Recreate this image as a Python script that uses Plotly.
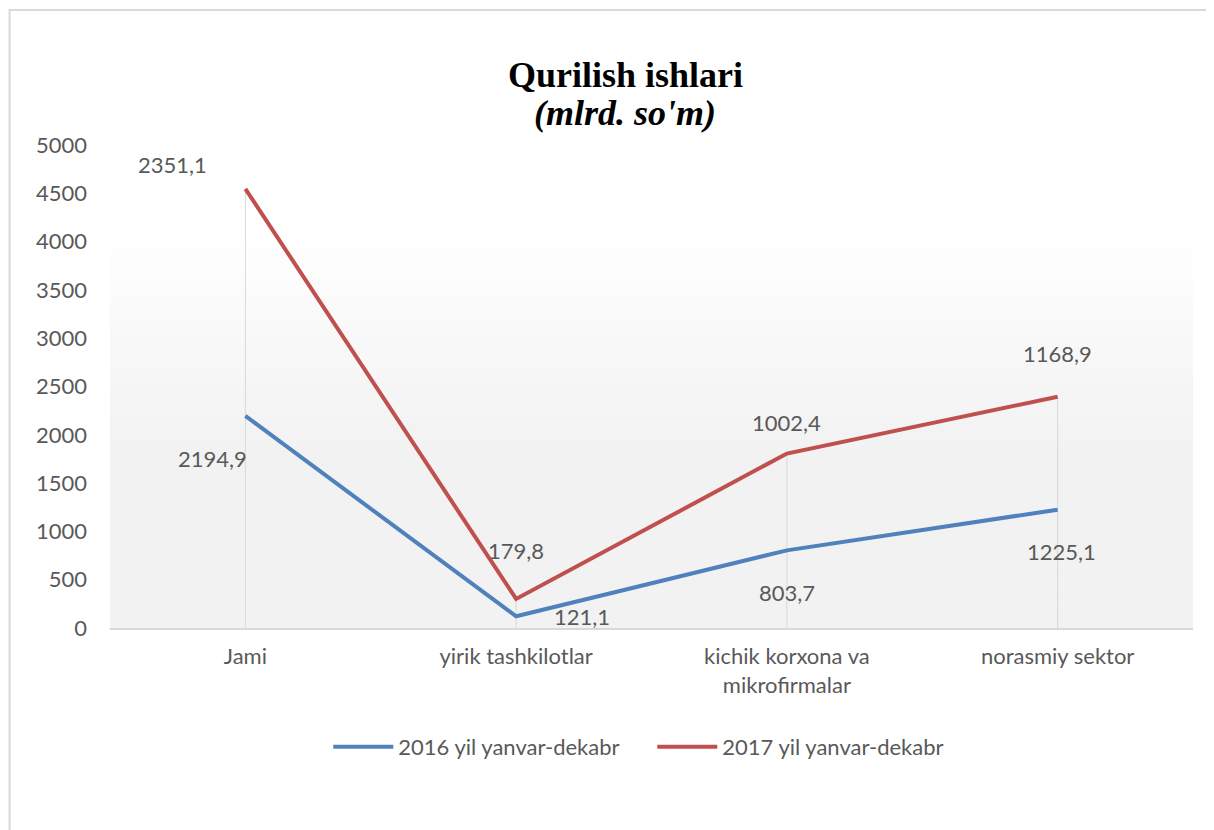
import plotly.graph_objects as go

categories = ["Jami", "yirik tashkilotlar", "kichik korxona va<br>mikrofirmalar", "norasmiy sektor"]
values_2016 = [2194.9, 121.1, 803.7, 1225.1]
values_2017 = [2351.1, 179.8, 1002.4, 1168.9]
labels_2016 = ["2194,9", "121,1", "803,7", "1225,1"]
labels_2017 = ["2351,1", "179,8", "1002,4", "1168,9"]
series_names = ["2016 yil yanvar-dekabr", "2017 yil yanvar-dekabr"]
y_ticks = [0, 500, 1000, 1500, 2000, 2500, 3000, 3500, 4000, 4500, 5000]

stack_2017 = [a + b for a, b in zip(values_2016, values_2017)]

OFF = 8  # page body margin
W, H = 1214 - OFF, 830 - OFF
ML = 109.5 - OFF
MT = 145 - OFF
MR = W - (1193.5 - OFF)
MB = H - (628 - OFF)
PW = W - ML - MR
PH = H - MT - MB


def px_x(x):  # reference pixel -> paper x
    return (x - OFF - ML) / PW


def px_y(y):  # reference pixel -> paper y
    return (H - MB - (y - OFF)) / PH


FONT = "Lato"
FS = 22
TXT = "#595959"
BLUE = "#4f81bd"
RED = "#c0504d"

fig = go.Figure()

# drop lines
dx, dy = [], []
for c, t in zip(categories, stack_2017):
    dx += [c, c, None]
    dy += [0, t, None]
fig.add_trace(go.Scatter(x=dx, y=dy, mode="lines", line=dict(color="#d9d9d9", width=1),
                         showlegend=False, hoverinfo="skip"))

fig.add_trace(go.Scatter(x=categories, y=values_2016, mode="lines", name=series_names[0],
                         line=dict(color=BLUE, width=4)))
fig.add_trace(go.Scatter(x=categories, y=stack_2017, mode="lines", name=series_names[1],
                         line=dict(color=RED, width=4)))

# data labels
shifts_2016 = [(-33, -43), (66, 0), (0, -42), (4, -42)]
shifts_2017 = [(-73, 24), (0, 48), (0, 31), (0, 43)]
for c, v, lab, (sx, sy) in zip(categories, values_2016, labels_2016, shifts_2016):
    fig.add_annotation(x=c, y=v, text=lab, showarrow=False, xshift=sx, yshift=sy,
                       font=dict(family=FONT, size=FS, color=TXT))
for c, v, lab, (sx, sy) in zip(categories, stack_2017, labels_2017, shifts_2017):
    fig.add_annotation(x=c, y=v, text=lab, showarrow=False, xshift=sx, yshift=sy,
                       font=dict(family=FONT, size=FS, color=TXT))

# title
fig.add_annotation(xref="paper", yref="paper", x=px_x(625), y=px_y(75),
                   text="<b>Qurilish ishlari</b>", showarrow=False, yanchor="middle",
                   font=dict(family="Liberation Serif", size=36, color="black"))
fig.add_annotation(xref="paper", yref="paper", x=px_x(625), y=px_y(113),
                   text="<b><i>(mlrd. so'm)</i></b>", showarrow=False, yanchor="middle",
                   font=dict(family="Liberation Serif", size=36, color="black"))

# background gradient (plot area)
shapes = []
n = 40
for i in range(n):
    f0 = i / n
    f1 = (i + 1) / n
    t = (f0 + f1) / 2
    if t <= 0.37:
        g = 242
    elif t >= 0.82:
        g = 255
    else:
        g = round(242 + (t - 0.37) / 0.45 * 13)
    shapes.append(dict(type="rect", xref="paper", yref="paper", x0=0, x1=1, y0=f0, y1=f1 + 0.001,
                       fillcolor=f"rgb({g},{g},{g})", line=dict(width=0), layer="below"))
# outer frame
shapes.append(dict(type="rect", xref="paper", yref="paper",
                   x0=px_x(9), x1=px_x(1240), y0=px_y(850), y1=px_y(10),
                   line=dict(color="#d9d9d9", width=2), fillcolor="rgba(0,0,0,0)", layer="below"))

fig.update_layout(
    width=W, height=H,
    margin=dict(l=ML, r=MR, t=MT, b=MB),
    paper_bgcolor="white", plot_bgcolor="rgba(0,0,0,0)",
    shapes=shapes,
    showlegend=True,
    legend=dict(orientation="h", x=px_x(328), xanchor="left", y=px_y(747), yanchor="middle",
                font=dict(family=FONT, size=FS, color=TXT), itemwidth=60,
                entrywidth=249, entrywidthmode="pixels",
                bgcolor="rgba(0,0,0,0)"),
    xaxis=dict(range=[-0.5, 3.5], showgrid=False, showline=True, linecolor="#d9d9d9", linewidth=1.5,
               ticks="", tickfont=dict(family=FONT, size=FS, color=TXT), fixedrange=True,
               ticklabelstandoff=8),
    yaxis=dict(range=[0, 5000], tickvals=y_ticks, showgrid=False, zeroline=False, showline=False,
               ticks="", tickfont=dict(family=FONT, size=FS, color=TXT), ticklabelstandoff=22),
)

fig.write_html("out.html")
